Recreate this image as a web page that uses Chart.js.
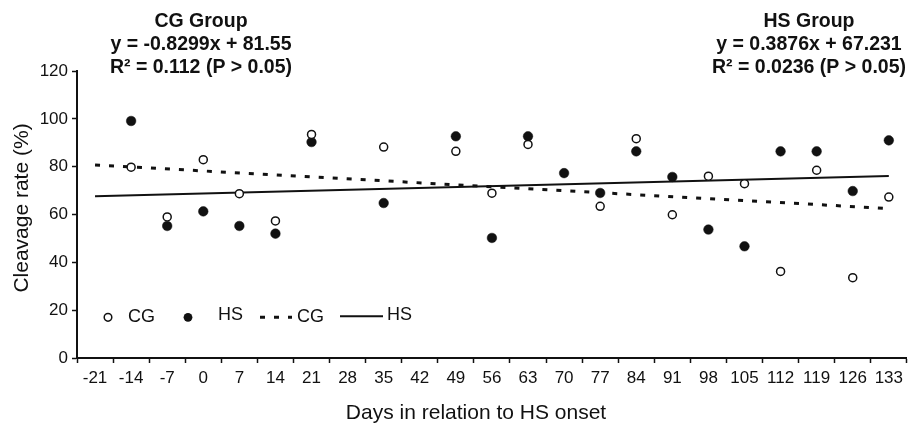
<!DOCTYPE html>
<html>
<head>
<meta charset="utf-8">
<title>Cleavage rate</title>
<script src="https://cdn.jsdelivr.net/npm/chart.js@4.4.1/dist/chart.umd.min.js"></script>
<style>
  html, body { margin: 0; padding: 0; background: #fff; }
  #wrap { width: 908px; height: 424px; }
</style>
</head>
<body>
<div id="wrap"><canvas id="chartCleavage" width="908" height="424"></canvas></div>
<script>
// Days in relation to HS onset (categories)
const days = ['-21','-14','-7','0','7','14','21','28','35','42','49','56','63','70','77','84','91','98','105','112','119','126','133'];
// Cleavage rate (%), null = no point
const cgRate = [null, 79.8, 59.0, 82.9, 68.7, 57.3, 93.5, null, 88.2, null, 86.4, 68.9, 89.3, null, 63.4, 91.7, 59.9, 76.0, 72.9, 36.2, 78.5, 33.6, 67.3];
const hsRate = [null, 99.1, 55.2, 61.3, 55.2, 52.0, 90.3, null, 64.8, null, 92.7, 50.2, 92.7, 77.3, 69.0, 86.4, 75.7, 53.7, 46.7, 86.4, 86.4, 69.8, 91.0];
// regression line ends (first and last day)
const cgFitEnds = [80.7, 62.5];
const hsFitEnds = [67.6, 76.1];
const yTicks = [0, 20, 40, 60, 80, 100, 120];

const cgText = ['CG Group', 'y = -0.8299x + 81.55', 'R\u00b2 = 0.112 (P > 0.05)'];
const hsText = ['HS Group', 'y = 0.3876x + 67.231', 'R\u00b2 = 0.0236 (P > 0.05)'];

const FONT = '"Liberation Sans", Arial, Helvetica, sans-serif';
const INK = '#111';

function fitLine(ends){
  const arr = days.map(() => null);
  arr[0] = ends[0];
  arr[arr.length - 1] = ends[1];
  return arr;
}

// texts, axis titles and the in-plot legend
const extras = {
  id: 'extras',
  afterDatasetsDraw(chart){
    const ctx = chart.ctx;
    const a = chart.chartArea;
    const y = chart.scales.y;
    ctx.save();
    ctx.fillStyle = INK;
    ctx.textAlign = 'center';
    ctx.textBaseline = 'middle';
    ctx.font = 'bold 19.5px ' + FONT;
    cgText.forEach((t, i) => ctx.fillText(t, 201, 22 + i * 23));
    hsText.forEach((t, i) => ctx.fillText(t, 809, 22 + i * 23));

    // axis titles
    ctx.font = '21px ' + FONT;
    ctx.fillText('Days in relation to HS onset', 476, 413);
    ctx.save();
    ctx.translate(22, 208);
    ctx.rotate(-Math.PI / 2);
    ctx.fillText('Cleavage rate (%)', 0, 0);
    ctx.restore();

    // legend
    const ly = y.getPixelForValue(17);
    const ds = chart.data.datasets;
    ctx.font = '18px ' + FONT;
    ctx.textAlign = 'left';
    // open circle
    ctx.beginPath();
    ctx.arc(a.left + 31, ly, 3.8, 0, Math.PI * 2);
    ctx.fillStyle = '#fff'; ctx.fill();
    ctx.lineWidth = ds[0].pointBorderWidth; ctx.strokeStyle = INK; ctx.stroke();
    ctx.fillStyle = INK;
    ctx.fillText(ds[0].label, a.left + 51, ly);
    // filled circle
    ctx.beginPath();
    ctx.arc(a.left + 111, ly, 4.4, 0, Math.PI * 2);
    ctx.fill();
    ctx.fillText(ds[1].label, a.left + 141, ly - 2);
    // dashed
    ctx.beginPath();
    ctx.setLineDash(ds[2].borderDash);
    ctx.lineWidth = ds[2].borderWidth;
    ctx.moveTo(a.left + 183, ly); ctx.lineTo(a.left + 215, ly);
    ctx.stroke();
    ctx.setLineDash([]);
    ctx.fillText(ds[2].label, a.left + 220, ly);
    // solid
    ctx.beginPath();
    ctx.lineWidth = ds[3].borderWidth;
    ctx.moveTo(a.left + 263, ly - 1); ctx.lineTo(a.left + 306, ly - 1);
    ctx.stroke();
    ctx.fillText(ds[3].label, a.left + 310, ly - 2);
    ctx.restore();
  }
};

new Chart(document.getElementById('chartCleavage'), {
  type: 'line',
  data: {
    labels: days,
    datasets: [
      {
        label: 'CG', data: cgRate, showLine: false,
        pointStyle: 'circle', pointRadius: 4, pointBackgroundColor: '#fff',
        pointBorderColor: INK, pointBorderWidth: 1.5, order: 0
      },
      {
        label: 'HS', data: hsRate, showLine: false,
        pointStyle: 'circle', pointRadius: 4.8, pointBackgroundColor: INK,
        pointBorderColor: INK, pointBorderWidth: 0.5, order: 0
      },
      {
        label: 'CG', data: fitLine(cgFitEnds), spanGaps: true,
        borderColor: INK, borderWidth: 3, borderDash: [5, 9], pointRadius: 0, order: 1
      },
      {
        label: 'HS', data: fitLine(hsFitEnds), spanGaps: true,
        borderColor: INK, borderWidth: 2, pointRadius: 0, order: 1
      }
    ]
  },
  options: {
    responsive: false,
    animation: false,
    devicePixelRatio: 1,
    layout: { autoPadding: false, padding: { top: 71, left: 0, right: 0, bottom: 0 } },
    plugins: { legend: { display: false }, tooltip: { enabled: false } },
    scales: {
      x: {
        type: 'category',
        offset: true,
        grid: { offset: true, drawOnChartArea: false, drawTicks: true, tickLength: 5, color: INK, tickWidth: 1.5 },
        border: { display: true, color: INK, width: 2 },
        ticks: { color: INK, font: { family: FONT, size: 17 }, padding: 5, maxRotation: 0, autoSkip: false },
        afterFit(s){ s.height = 66; }
      },
      y: {
        min: 0, max: 120,
        afterBuildTicks(s){ s.ticks = yTicks.map(v => ({ value: v })); },
        grid: { drawOnChartArea: false, drawTicks: true, tickLength: 5, color: INK, tickWidth: 1.5 },
        border: { display: true, color: INK, width: 2 },
        ticks: { color: INK, font: { family: FONT, size: 17 }, padding: 4 },
        afterFit(s){ s.width = 77; }
      }
    }
  },
  plugins: [extras]
});
</script>
</body>
</html>
